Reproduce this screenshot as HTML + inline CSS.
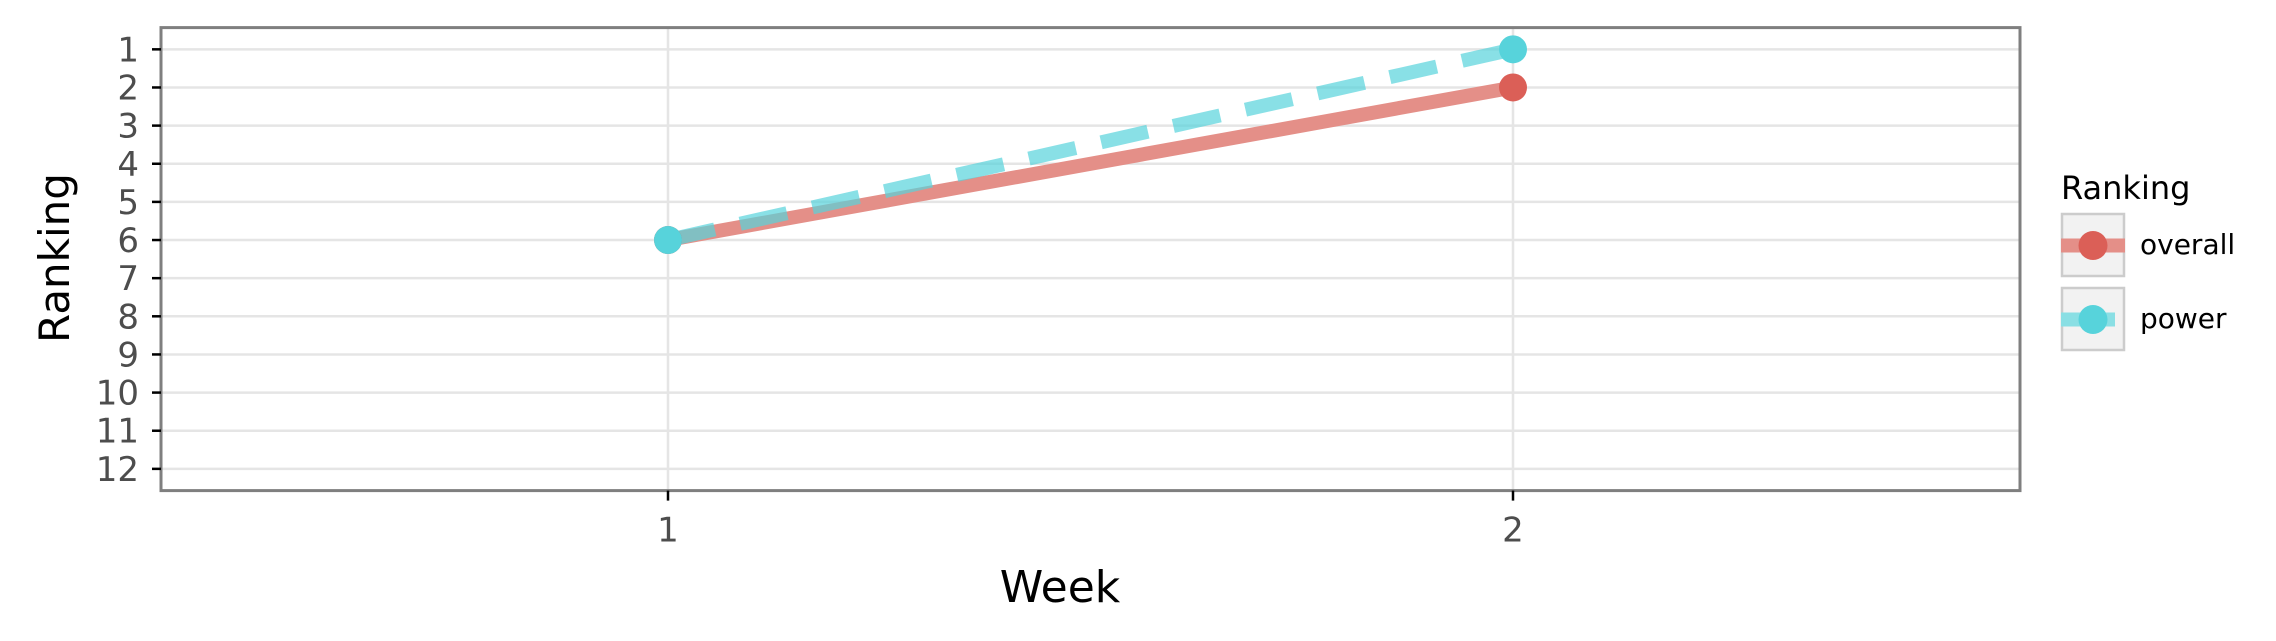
<!DOCTYPE html>
<html><head><meta charset="utf-8"><style>
body{margin:0;background:#fff}
svg{display:block;font-family:"DejaVu Sans","Liberation Sans",sans-serif}
</style></head><body>
<svg id="chart" width="2276" height="641" viewBox="0 0 2276 641">
<g id="grid"></g>
<g id="series"></g>
<rect x="161" y="27.6" width="1859" height="463" fill="none" stroke="#7f7f7f" stroke-width="3"/>
<g id="axes"></g>
<text x="1060" y="602" font-size="44" text-anchor="middle" fill="#000">Week</text>
<text transform="translate(69,258) rotate(-90)" font-size="42" text-anchor="middle" fill="#000">Ranking</text>
<g>
<text x="2061" y="199" font-size="32" fill="#000">Ranking</text>
<g>
<rect x="2062" y="214" width="62" height="62" fill="#f2f2f2" stroke="#cccccc" stroke-width="2.5"/>
<line x1="2061" y1="245.5" x2="2125" y2="245.5" stroke="#e48f88" stroke-width="14"/>
<circle cx="2093" cy="245.5" r="14.5" fill="#db5f57"/>
<text x="2140" y="254" font-size="28" fill="#000">overall</text>
</g>
<g>
<rect x="2062" y="288" width="62" height="62" fill="#f2f2f2" stroke="#cccccc" stroke-width="2.5"/>
<line x1="2061" y1="319.5" x2="2115" y2="319.5" stroke="#8adfe4" stroke-width="14"/>
<circle cx="2093" cy="319.5" r="14.5" fill="#57d3db"/>
<text x="2140" y="328" font-size="28" fill="#000">power</text>
</g>
</g>
</svg>
<script>
const weeks = [1, 2];
const overallRank = [6, 2];
const powerRank = [6, 1];
const xTicks = [1, 2];
const yTicks = [1,2,3,4,5,6,7,8,9,10,11,12];

const NS = "http://www.w3.org/2000/svg";
const PL = 161, PR = 2020, PT = 27.6, PB = 490.6;
const xMin = 0.4, xMax = 2.6, yMin = 0.43, yMax = 12.57;
function xs(v){ return PL + (v - xMin) / (xMax - xMin) * (PR - PL); }
function ys(v){ return PT + (v - yMin) / (yMax - yMin) * (PB - PT); }
function mk(tag, attrs, parent){
  const e = document.createElementNS(NS, tag);
  for (const k in attrs) e.setAttribute(k, attrs[k]);
  parent.appendChild(e);
  return e;
}
const grid = document.getElementById('grid');
const axes = document.getElementById('axes');
const series = document.getElementById('series');

yTicks.forEach(t => {
  const y = ys(t);
  const g = mk('line', {x1: PL, x2: PR, y1: y, y2: y, stroke: '#e5e5e5', 'stroke-width': 2.5}, grid);
  
  
  const tk = mk('line', {x1: PL - 9, x2: PL, y1: y, y2: y, stroke: '#000', 'stroke-width': 2.5}, axes);
  
  
  const lb = mk('text', {x: PL - 22, y: y + 12, 'font-size': 34, 'text-anchor': 'end', fill: '#4d4d4d'}, axes);
  lb.textContent = t;
  
  
});
xTicks.forEach(t => {
  const x = xs(t);
  const g = mk('line', {x1: x, x2: x, y1: PT, y2: PB, stroke: '#e5e5e5', 'stroke-width': 2.5}, grid);
  
  
  const tk = mk('line', {x1: x, x2: x, y1: PB, y2: PB + 10, stroke: '#000', 'stroke-width': 2.5}, axes);
  
  
  const lb = mk('text', {x: x, y: PB + 51, 'font-size': 34, 'text-anchor': 'middle', fill: '#4d4d4d'}, axes);
  lb.textContent = t;
  
  
});

function drawSeries(vals, lineColor, dash, name){
  const pts = weeks.map((w, i) => xs(w) + ',' + ys(vals[i])).join(' ');
  const attrs = {points: pts, fill: 'none', stroke: lineColor, 'stroke-width': 14};
  if (dash) attrs['stroke-dasharray'] = dash;
  const pl = mk('polyline', attrs, series);
  
  
  return pl;
}
function drawPoints(vals, ptColor, name){
  weeks.forEach((w, i) => {
    const c = mk('circle', {cx: xs(w), cy: ys(vals[i]), r: 14, fill: ptColor}, series);
    
    
  });
}
drawSeries(overallRank, '#e48f88', null, 'overall');
drawSeries(powerRank, 'rgba(87,211,219,0.7)', '48 26', 'power');
drawPoints(overallRank, '#db5f57', 'overall');
drawPoints(powerRank, '#57d3db', 'power');
</script>
</body></html>
